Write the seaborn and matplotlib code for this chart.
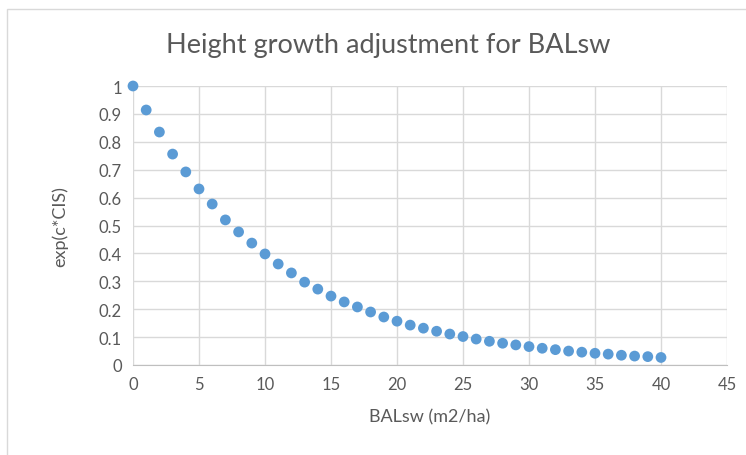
import numpy as np
import pandas as pd
import matplotlib
matplotlib.use("Agg")
import matplotlib.pyplot as plt
import seaborn as sns
from matplotlib.patches import Rectangle

balsw = list(range(0, 41))
adj = [1.0, 0.914, 0.835, 0.756, 0.692, 0.631, 0.577, 0.520, 0.477, 0.437,
       0.398, 0.362, 0.330, 0.297, 0.272, 0.247, 0.226, 0.208, 0.190, 0.172,
       0.157, 0.143, 0.132, 0.121, 0.111, 0.102, 0.093, 0.085, 0.078, 0.072,
       0.066, 0.060, 0.055, 0.050, 0.046, 0.042, 0.039, 0.035, 0.032, 0.030,
       0.027]
xticks = [0, 5, 10, 15, 20, 25, 30, 35, 40, 45]
yticks = [0, 0.1, 0.2, 0.3, 0.4, 0.5, 0.6, 0.7, 0.8, 0.9, 1]
ylabels = ["0", "0.1", "0.2", "0.3", "0.4", "0.5", "0.6", "0.7", "0.8", "0.9", "1"]

df = pd.DataFrame({"BALsw": balsw, "adj": adj})

sns.set_style("white")
plt.rcParams["font.family"] = ["Lato", "DejaVu Sans"]

fig = plt.figure(figsize=(7.46, 4.56), dpi=100)
ax = fig.add_axes([133 / 746, 1 - 366 / 456, (727 - 133) / 746, (366 - 87) / 456])
fig.patches.append(Rectangle((7 / 746, -0.1), 1.2, 1.1 - 10 / 456, transform=fig.transFigure,
                             fill=False, edgecolor="#D9D9D9", linewidth=1))

sns.scatterplot(data=df, x="BALsw", y="adj", ax=ax, color="#5B9BD5", s=60,
                edgecolor="none", zorder=3, clip_on=False)

ax.set_xlim(0, 45)
ax.set_ylim(0, 1)
ax.set_xticks(xticks)
ax.set_yticks(yticks)
ax.set_yticklabels(ylabels)
ax.grid(True, color="#D9D9D9", linewidth=1)
for s in ["top", "right", "left"]:
    ax.spines[s].set_visible(False)
ax.spines["bottom"].set_color("#BFBFBF")
ax.tick_params(axis="both", length=0, labelsize=12, colors="#595959", pad=8)

ax.set_xlabel("BALsw (m2/ha)", fontsize=13, color="#595959", labelpad=12)
ax.set_ylabel("exp(c*CIS)", fontsize=13, color="#595959", labelpad=22)
fig.text(388 / 746, 1 - 46 / 456, "Height growth adjustment for BALsw", ha="center", va="center",
         fontsize=19.5, color="#595959")

fig.savefig("out.png", dpi=100)
